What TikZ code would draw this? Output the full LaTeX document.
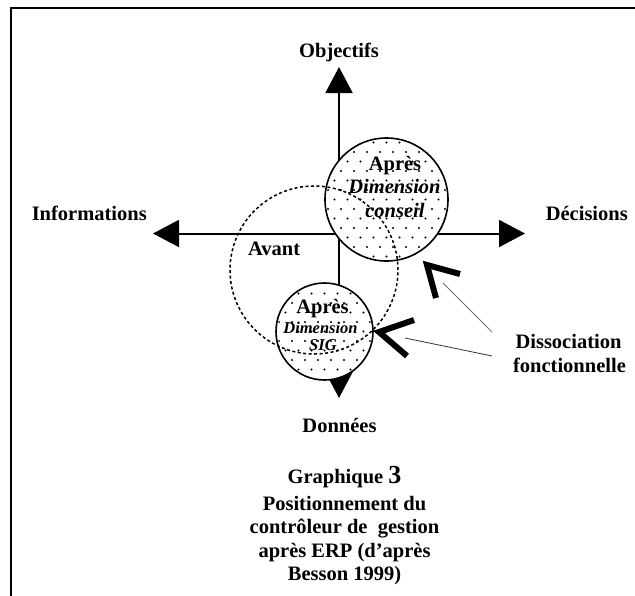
\documentclass[tikz,border=0pt]{standalone}
\usepackage{fontspec}
\setmainfont{Liberation Serif}
\usetikzlibrary{arrows.meta}
\newcommand\dotsin[2]{%
  \begin{scope}
    \clip (#1.center) circle (#2);
    \foreach \r in {-8,...,8}{\foreach \c in {-6,...,6}{
      \fill ([shift={({\c*13pt+mod(\r,2)*6.5pt},{\r*9.5pt})}]#1.center) circle (1.05pt);}}
  \end{scope}}
\tikzset{
  lbl/.style={font=\fontsize{20.5}{23.5}\selectfont\bfseries, inner sep=0pt, anchor=base},
  lblit/.style={lbl, font=\fontsize{20.5}{23.5}\selectfont\bfseries\itshape},
  lblsm/.style={lbl, font=\fontsize{16.5}{19}\selectfont\bfseries\itshape},
  axis/.style={line width=2pt, {Triangle[length=26pt,width=27pt]}-{Triangle[length=26pt,width=27pt]}},
  disc/.style={circle, draw, fill=white, line width=1.6pt, inner sep=0pt, outer sep=0pt},
  avantc/.style={circle, draw, line width=1.5pt, dash pattern=on 3pt off 2.5pt, inner sep=0pt},
  chev/.style={line width=6pt, line join=miter},
  leader/.style={line width=0.8pt}
}
\begin{document}
\begin{tikzpicture}[x=1pt,y=-1pt]
\useasboundingbox (0,0) rectangle (635,595);
% frame
\draw[line width=2pt] (636,7.5) -- (11,7.5) -- (11,596);
% axes
\coordinate (top) at (339,67);
\coordinate (bot) at (339,398);
\coordinate (left) at (153,233.5);
\coordinate (right) at (525,233.5);
\draw[axis] (left) -- (right);
\draw[axis] (top) -- (bot);
% circles
\node[disc, minimum size=123pt] (big) at (386.5,199.5) {};
\dotsin{big}{60pt}
\node[disc, minimum size=97pt] (small) at (324.5,331.5) {};
\dotsin{small}{47pt}
\node[avantc, minimum size=168pt] (avantcirc) at (314,270) {};
% axis labels
\node[lbl] (obj) at (339,57) {Objectifs};
\node[lbl, anchor=base east] (info) at (147,220) {Informations};
\node[lbl, anchor=base east] (dec) at (628,220) {Décisions};
\node[lbl] (don) at (339.5,432) {Données};
\node[lbl, anchor=base west] (avant) at (248,255) {Avant};
% big circle text
\node[lbl] (apres1) at (395,170) {Après};
\node[lblit] (dim1) at (394.5,193) {Dimension};
\node[lblit] (cons) at (395,217) {conseil};
% small circle text
\node[lbl] (apres2) at (322.5,313) {Après};
\node[lblsm] (dim2) at (320.5,333) {Dimension};
\node[lblsm] (sig) at (323,350) {SIG};
% chevrons
\coordinate (cu1) at (436,298);
\coordinate (cuv) at (427,265);
\coordinate (cu2) at (460,274);
\draw[chev] (cu1) -- (cuv) -- (cu2);
\coordinate (cl1) at (414,320);
\coordinate (clv) at (379,332);
\coordinate (cl2) at (407,356);
\draw[chev] (cl1) -- (clv) -- (cl2);
% dissociation
\node[lbl] (diss1) at (568.5,348) {Dissociation};
\node[lbl] (diss2) at (569.5,372) {fonctionnelle};
\coordinate (la) at (443,283);
\coordinate (lb) at (492,332);
\coordinate (lc) at (405,338);
\coordinate (ld) at (492,356);
\draw[leader, black!55] (la) -- (lb);
\draw[leader, black!80] (lc) -- (ld);
% caption
\node[lbl] (cap1) at (344.5,483) {Graphique {\fontsize{26}{28}\selectfont 3}};
\node[lbl] (cap2) at (344.5,510) {Positionnement du};
\node[lbl] (cap3) at (344.5,533) {contrôleur de\ \ gestion};
\node[lbl] (cap4) at (344.5,557) {après ERP (d’après};
\node[lbl] (cap5) at (344.5,580) {Besson 1999)};
\end{tikzpicture}
\end{document}
